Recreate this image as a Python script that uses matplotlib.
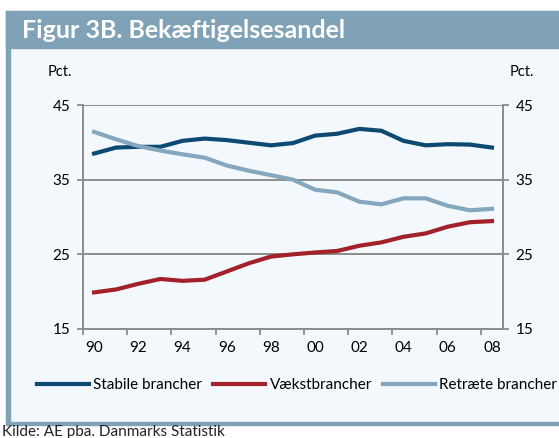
import matplotlib
matplotlib.use("Agg")
import matplotlib.pyplot as plt
from matplotlib.patches import Rectangle

years = list(range(1990, 2009))
year_labels = ["90", "92", "94", "96", "98", "00", "02", "04", "06", "08"]

stabile = [38.5, 39.3, 39.4, 39.4, 40.2, 40.5, 40.3, 39.95, 39.6, 39.9,
           40.9, 41.15, 41.8, 41.55, 40.2, 39.6, 39.75, 39.7, 39.3]
vaekst = [19.9, 20.3, 21.05, 21.7, 21.45, 21.6, 22.7, 23.8, 24.7, 25.0,
          25.25, 25.45, 26.15, 26.6, 27.35, 27.8, 28.7, 29.3, 29.45]
retraete = [41.4, 40.4, 39.5, 38.9, 38.4, 37.95, 36.9, 36.2, 35.6, 35.0,
            33.65, 33.3, 32.05, 31.7, 32.5, 32.5, 31.5, 30.9, 31.1]

c_stab = "#0d4a72"
c_vaek = "#a3212b"
c_retr = "#84a7bd"
c_band = "#7fa2b6"
c_bg = "#f3f8fd"
c_grid = "#8c8c8c"

plt.rcParams['font.family'] = ['Lato', 'DejaVu Sans']

W, H = 559, 438
fig = plt.figure(figsize=(W / 100, H / 100), dpi=100)
fig.patch.set_facecolor("white")

def fx(px):
    return px / W

def fy(py):
    return 1 - py / H

# panel background, title band and frame
for (x0, y0, w, h, col) in [(10, 422, 549, 422 - 48, c_bg),
                            (6, 48, 553, 48 - 11, c_band),
                            (6, 425, 4, 425 - 11, c_band),
                            (6, 425, 553, 3.5, c_band)]:
    fig.patches.append(Rectangle((fx(x0), fy(y0)), fx(w), h / H,
                                 transform=fig.transFigure, color=col, zorder=-5))

fig.text(fx(22), fy(30), "Figur 3B. Bekæftigelsesandel", color="white",
         fontsize=18, fontweight="bold", va="center", ha="left")

ax = fig.add_axes([fx(83), fy(329), fx(503 - 83), (329 - 105) / H])
ax.set_zorder(2)
ax.set_facecolor(c_bg)
x = list(range(len(years)))
ax.plot(x, stabile, color=c_stab, lw=3, label="Stabile brancher", zorder=3)
ax.plot(x, vaekst, color=c_vaek, lw=3, label="Vækstbrancher", zorder=3)
ax.plot(x, retraete, color=c_retr, lw=3, label="Retræte brancher", zorder=3)

ax.set_xlim(-0.5, 18.5)
ax.set_ylim(15, 45)
ax.set_yticks([15, 25, 35, 45])
ax.set_xticks(x[::2])
ax.set_xticklabels(year_labels)
ax.set_xticks([i - 0.5 for i in range(0, 19, 2)], minor=True)
ax.tick_params(axis="x", which="major", length=0, pad=9, labelsize=11)
ax.tick_params(axis="x", which="minor", length=4, width=1.3, color=c_grid, direction="out")
ax.tick_params(axis="y", length=4, width=1.3, color=c_grid, labelsize=11,
               left=True, right=True, labelleft=True, labelright=True, pad=5)
for s in ["left", "right", "bottom"]:
    ax.spines[s].set_color(c_grid)
    ax.spines[s].set_linewidth(1.4)
ax.spines["top"].set_visible(False)
ax.grid(axis="y", color=c_grid, lw=1.4)
ax.set_axisbelow(True)

fig.text(fx(60), fy(72), "Pct.", fontsize=10.5, va="center", ha="center")
fig.text(fx(522), fy(72), "Pct.", fontsize=10.5, va="center", ha="center")

fig.legend(loc="center", bbox_to_anchor=(fx(297), fy(385)), ncol=3, frameon=False,
           fontsize=11, handlelength=3.4, handletextpad=0.3, columnspacing=0.7)

fig.text(fx(2), fy(432), "Kilde: AE pba. Danmarks Statistik", fontsize=11,
         va="center", ha="left", color="#222222")

fig.savefig("out.png", dpi=100)
